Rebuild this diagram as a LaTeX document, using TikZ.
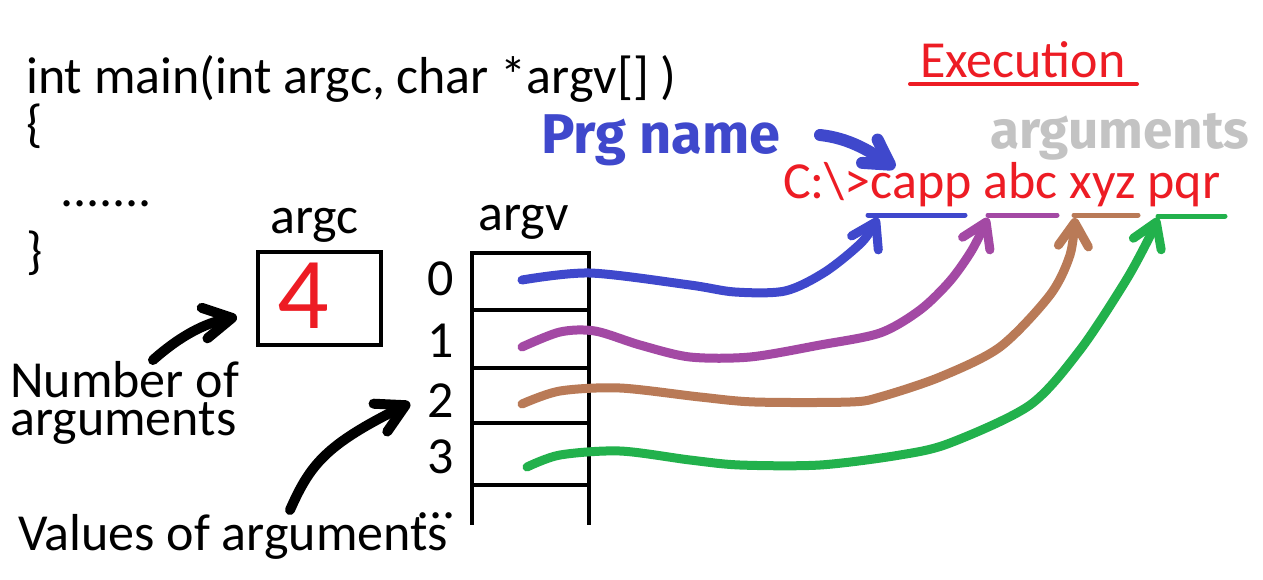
\documentclass[tikz,border=0pt]{standalone}
\usepackage{fontspec}
\setmainfont{Carlito}
\newfontfamily\hand{Fira Sans}
\usetikzlibrary{arrows.meta}
\definecolor{pred}{HTML}{ED1C24}
\definecolor{pblue}{HTML}{3F48CC}
\definecolor{ppurple}{HTML}{A349A4}
\definecolor{pbrown}{HTML}{B97A57}
\definecolor{pgreen}{HTML}{22B14C}
\definecolor{pgray}{HTML}{C3C3C3}
\begin{document}
\begin{tikzpicture}[x=1pt,y=-1pt,
  txt/.style={inner sep=0pt, anchor=base west, font=\fontsize{52}{60}\selectfont},
  redtxt/.style={txt, text=pred, font=\fontsize{52}{60}\selectfont},
  handtxt/.style={inner sep=0pt, anchor=base west, font=\hand\bfseries\fontsize{56}{60}\selectfont},
  cell/.style={draw, line width=4.5pt, minimum width=117pt, inner sep=0pt, outer sep=0pt},
  boxst/.style={draw, line width=4.5pt, minimum width=123pt, minimum height=93pt, inner sep=0pt},
  pen/.style={line width=9pt, line cap=round, line join=round,
    -{Straight Barb[angle=65:28pt, round]}},
  blackpen/.style={line width=10pt, line cap=round, line join=round,
    -{Straight Barb[angle=58:32pt, round]}},
  uline/.style={line width=5pt, line cap=round}]
\useasboundingbox[fill=white] (0,0) rectangle (1263,579);

% code text
\node[txt] (sig) at (26,93) {int main(int argc, char *argv[] )};
\node[txt] (ob) at (26,141) {\{};
\node[txt] (dots) at (60,206) {.......};
\node[txt] (cb) at (26,268) {\}};

% argc
\node[txt] (argclbl) at (270,233) {argc};
\node[boxst] (argcbox) at (319.5,298.5) {};
\node[inner sep=0pt, anchor=base, text=pred, font=\fontsize{102}{102}\selectfont] (four) at (303,328) {4};

% argv array
\node[txt] (argvlbl) at (478,230) {argv};
\node[cell, minimum height=57pt] (c0) at (530.5,281.5) {};
\node[cell, minimum height=58pt] (c1) at (530.5,339) {};
\node[cell, minimum height=55pt] (c2) at (530.5,395.5) {};
\node[cell, minimum height=62pt] (c3) at (530.5,454) {};
\coordinate (l1) at (472,525);
\coordinate (r1) at (589,525);
\draw[line width=4.5pt] (c3.south west) -- (l1) (c3.south east) -- (r1);
\node[txt, anchor=base] (i0) at (441,295) {0};
\node[txt, anchor=base] (i1) at (441,357) {1};
\node[txt, anchor=base] (i2) at (441,417) {2};
\node[txt, anchor=base] (i3) at (441,473) {3};
\node[txt, anchor=base] (more) at (436,518) {...};

% labels
\node[txt, align=left, font=\fontsize{52}{38}\selectfont] (num) at (10,435) {Number of\\arguments};
\node[txt] (vals) at (18,550) {Values of arguments};

\coordinate (na) at (153,360);
\coordinate (nt) at (237,317);
\draw[blackpen] (na) .. controls (180,336) and (205,323) .. (nt);
\coordinate (va) at (290,510);
\coordinate (vt) at (410,403);
\draw[blackpen] (va) .. controls (310,465) and (325,445) .. (vt);

% execution
\node[redtxt] (exec) at (920,77) {Execution};
\coordinate (ea) at (910,84);
\coordinate (eb) at (1137,84);
\draw[pred, line width=4pt, line cap=round] (ea) -- (eb);

\node[redtxt] (cmd) at (783,198) {C:\textbackslash>capp abc xyz pqr};

% handwritten
\node[handtxt, text=pblue] (prg) at (541,153) {Prg name};
\node[handtxt, text=pgray, font=\hand\bfseries\fontsize{53}{60}\selectfont] (argsh) at (990,148) {arguments};
\coordinate (pa) at (820,135);
\coordinate (pt) at (895,168);
\draw[pblue, line width=12pt, line cap=round, -{Straight Barb[angle=60:28pt, round]}]
  (pa) .. controls (848,138) and (868,150) .. (pt);

% underlines
\coordinate (u0a) at (868,215); \coordinate (u0b) at (965,215);
\coordinate (u1a) at (988,215); \coordinate (u1b) at (1057,215);
\coordinate (u2a) at (1074,215); \coordinate (u2b) at (1138,215);
\coordinate (u3a) at (1158,216); \coordinate (u3b) at (1225,216);
\draw[uline, pblue] (u0a) -- (u0b);
\draw[uline, ppurple] (u1a) -- (u1b);
\draw[uline, pbrown] (u2a) -- (u2b);
\draw[uline, pgreen] (u3a) -- (u3b);

% start points
\coordinate (s0) at (522,280);
\coordinate (s1) at (522,347);
\coordinate (s2) at (522,404);
\coordinate (s3) at (527,467);
\coordinate (t0) at (878,218);
\coordinate (t1) at (988,218);
\coordinate (t2) at (1075,218);
\coordinate (t3) at (1158,218);

\draw[pen, pblue] plot[smooth, tension=0.5] coordinates
  {(s0) (590,273) (690,285) (735,292) (785,291) (825,272) (862,242) (t0)};
\draw[pen, ppurple] plot[smooth, tension=0.5] coordinates
  {(s1) (560,332) (595,331) (640,345) (690,357) (750,357) (820,345) (880,333) (920,310) (950,281) (972,250) (t1)};
\draw[pen, pbrown] plot[smooth, tension=0.5] coordinates
  {(s2) (560,391) (620,388) (700,397) (755,402) (850,402) (880,397) (940,377) (1000,347) (1050,295) (1070,255) (t2)};
\draw[pen, pgreen] plot[smooth, tension=0.5] coordinates
  {(s3) (560,455) (620,451) (690,460) (740,465) (820,465) (900,455) (950,443) (1030,405) (1080,350) (1125,282) (1148,240) (t3)};
\end{tikzpicture}
\end{document}
